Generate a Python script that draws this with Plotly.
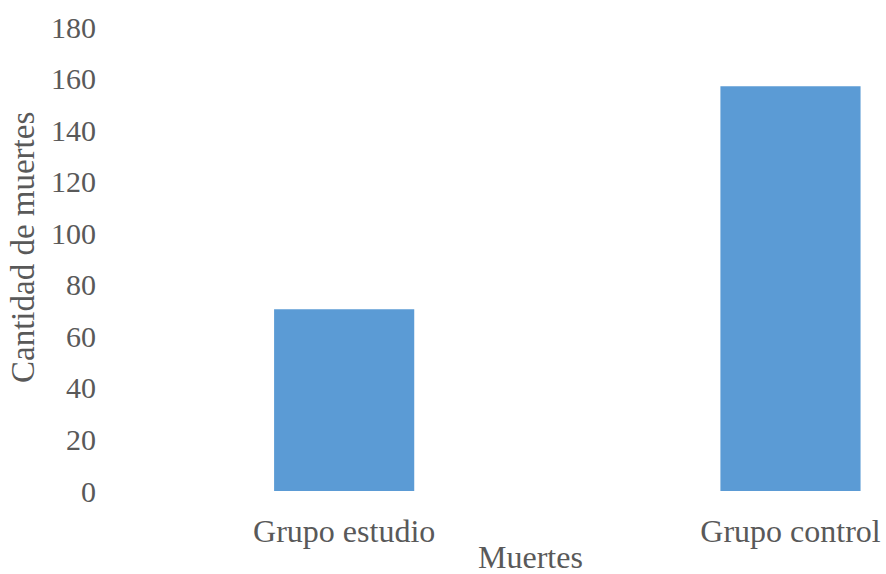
import plotly.graph_objects as go

categories = ["Grupo estudio", "Grupo control"]
values = [70.5, 157]
y_ticks = [0, 20, 40, 60, 80, 100, 120, 140, 160, 180]

FONT = "Liberation Serif, Times New Roman, serif"
TXT = "#595959"
W, H = 886, 574
ml, mr, mt, mb = 121, 0, 27, 83
pw = W - ml - mr
ph = H - mt - mb

fig = go.Figure(go.Bar(
    x=[0, 1], y=values, width=0.314,
    marker=dict(color="#5B9BD5", line=dict(width=0)),
))

fig.update_layout(
    width=W, height=H, autosize=False,
    margin=dict(l=ml, r=mr, t=mt, b=mb),
    paper_bgcolor="white", plot_bgcolor="white",
    showlegend=False,
    font=dict(family=FONT, size=30, color=TXT),
)
fig.update_xaxes(
    range=[-0.5, 1.214], tickvals=[0, 1], ticktext=categories,
    showgrid=False, showline=False, zeroline=False, ticks="",
    ticklabelstandoff=18,
    tickfont=dict(family=FONT, size=32, color=TXT),
)
fig.update_yaxes(
    range=[0, 180], tickvals=y_ticks,
    showgrid=False, showline=False, zeroline=False, ticks="",
    ticklabelstandoff=24,
    tickfont=dict(family=FONT, size=30, color=TXT),
)
fig.add_annotation(
    text="Muertes", xref="paper", yref="paper",
    x=(530.6 - ml) / pw, y=(H - mb - 557) / ph,
    xanchor="center", yanchor="middle", showarrow=False,
    font=dict(family=FONT, size=32, color=TXT),
)
fig.add_annotation(
    text="Cantidad de muertes", xref="paper", yref="paper",
    x=(23 - ml) / pw, y=(H - mb - 248) / ph, textangle=-90,
    xanchor="center", yanchor="middle", showarrow=False,
    font=dict(family=FONT, size=33, color=TXT),
)
fig.write_html("out.html")
